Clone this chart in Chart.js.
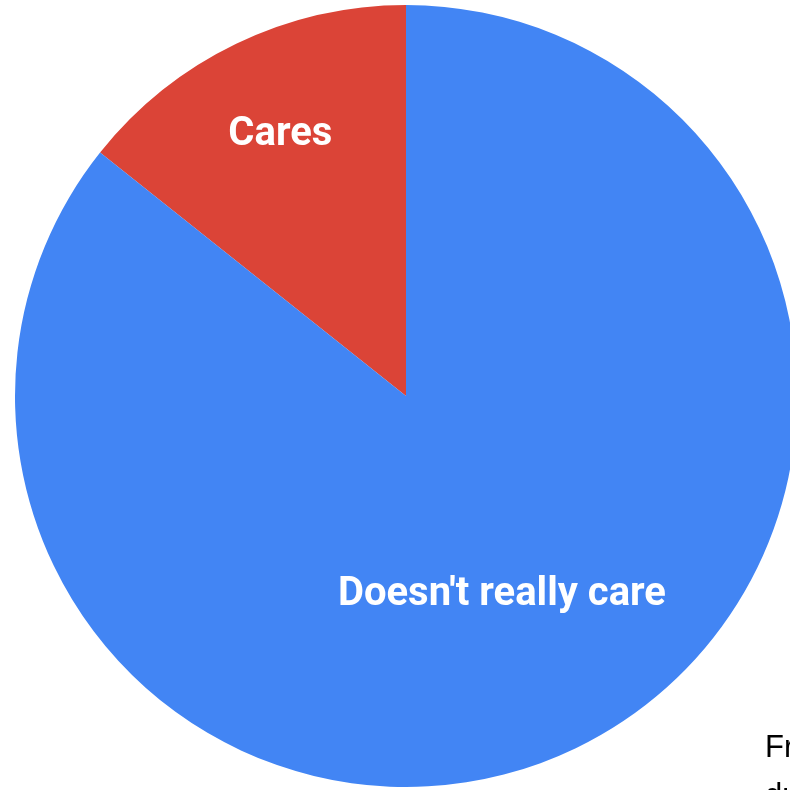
<!DOCTYPE html>
<html>
<head>
<meta charset="utf-8">
<script src="https://cdn.jsdelivr.net/npm/chart.js@4"></script>
<style>
  html, body { margin: 0; padding: 0; background: #fff; overflow: hidden; width: 790px; height: 790px; }
  #wrap { position: absolute; left: 0; top: 0; width: 812px; height: 792px; }
  .note { position: absolute; left: 765px; font-family: "Liberation Sans", Arial, sans-serif; font-size: 31px; color: #000; white-space: nowrap; }
</style>
</head>
<body>
<div id="wrap"><canvas id="pie"></canvas></div>
<div class="note" style="top:729px">Fr</div>
<div class="note" style="top:777px">du</div>
<script>
const labels = ["Cares", "Doesn't really care"];
const values = [14.3, 85.7];
const colors = ["#DB4437", "#4285F4"];

// label distance from the centre, as a share of the radius
const labelRadius = [0.74, 0.565];

const sliceLabels = {
    id: "sliceLabels",
    afterDatasetsDraw(chart) {
        const ctx = chart.ctx;
        const arcs = chart.getDatasetMeta(0).data;
        ctx.save();
        ctx.fillStyle = "#ffffff";
        ctx.font = "bold 40px Roboto";
        ctx.textAlign = "center";
        ctx.textBaseline = "middle";
        arcs.forEach(function (arc, i) {
            const mid = (arc.startAngle + arc.endAngle) / 2;
            const r = arc.outerRadius * labelRadius[i];
            ctx.fillText(labels[i], arc.x + Math.cos(mid) * r, arc.y + Math.sin(mid) * r);
        });
        ctx.restore();
    }
};

new Chart(document.getElementById("pie").getContext("2d"), {
    type: "pie",
    data: {
        labels: labels,
        datasets: [{
            data: values,
            backgroundColor: colors,
            borderWidth: 0,
        }],
    },
    options: {
        responsive: true,
        maintainAspectRatio: false,
        animation: false,
        radius: 391,
        rotation: -values[0] / 100 * 360,
        layout: { padding: 0 },
        plugins: {
            legend: { display: false },
            tooltip: { enabled: false },
        },
    },
    plugins: [sliceLabels],
});
</script>
</body>
</html>
